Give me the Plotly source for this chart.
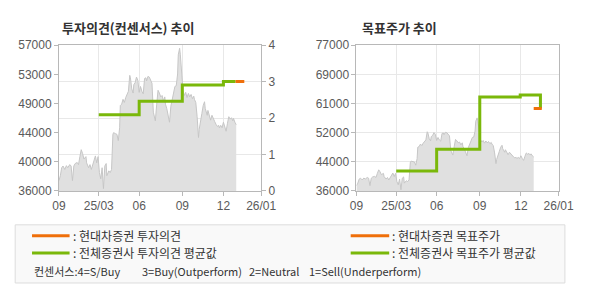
import plotly.graph_objects as go

# ---------------- data ----------------
x_tick_pos = [0, 59, 119, 183, 244, 300]
x_tick_labels = ["09", "25/03", "06", "09", "12", "26/01"]

stock_idx = [0, 2, 4, 6, 8.6, 11, 13, 16, 18, 20, 22, 24, 27, 29, 31, 33, 35, 37, 40, 41,
             44, 46, 48, 50, 52, 54, 56, 58, 60, 62, 64, 66, 68, 70, 71, 74, 76, 78, 80, 81,
             84, 86, 88, 90, 91, 93, 95, 97, 99, 101, 103, 105, 106, 108, 110, 111, 113, 115, 117, 119,
             121, 123, 125, 127, 129, 130, 132, 134, 136, 138, 140, 142, 143, 145, 147, 149, 151, 153, 155, 157,
             158, 160, 162, 164, 166, 168, 170, 172, 174, 176, 177, 179, 180, 181, 183, 184, 186, 188, 190, 192,
             194, 196, 198, 200, 201, 203, 205, 207, 208, 210, 212, 214, 216, 217, 220, 221, 223, 225, 227, 229,
             231, 233, 235, 237, 238, 240, 242, 244, 246, 248, 250, 252, 254, 256, 258, 259, 261, 263]
stock_price = [37500, 38200, 39350, 39600, 39100, 39650, 39350, 39800, 39600, 37500, 39600, 39950, 40100, 39800, 40950, 41950, 41400, 40600, 40950, 40050,
               39350, 39800, 39100, 39800, 40500, 41050, 40050, 40950, 38650, 37750, 39350, 36350, 39600, 39950, 38200, 38900, 38650, 39100, 44150, 44400,
               44250, 44150, 43250, 45100, 48300, 48500, 49200, 48750, 49450, 49900, 50350, 52650, 52300, 50700, 50100, 51300, 51600, 52400, 51950, 50200,
               51050, 50350, 50000, 52200, 52300, 51850, 52500, 52400, 51850, 51500, 47350, 46450, 46100, 48500, 50500, 50100, 49550, 49750, 48950, 49550,
               48500, 47850, 46900, 45900, 48200, 49100, 50100, 51050, 51150, 52850, 55600, 56550, 55700, 54250, 52850, 50500, 49750, 50200, 49450, 50050,
               49550, 49900, 49300, 49650, 49200, 48750, 46700, 43700, 44850, 45750, 47150, 48300, 48850, 47900, 46900, 47600, 46700, 46200, 46900, 46350,
               46000, 45600, 45300, 45450, 45100, 45450, 45100, 45900, 45150, 44600, 45750, 46700, 46350, 46550, 46100, 46450, 45900, 45550]

# consensus (investment opinion, 0-4 scale)
opinion_avg_idx = [59, 119, 183, 244, 262]
opinion_avg_val = [2.09, 2.46, 2.91, 3.0, 3.0]
opinion_hd_idx = [262, 275]
opinion_hd_val = [3.0, 3.0]

# target price
target_avg_idx = [59, 119, 183, 243, 273]
target_avg_val = [41600, 47700, 62400, 63000, 59200]
target_hd_idx = [263, 275]
target_hd_val = [59200, 59200]

left_price_ticks = [36000, 40200, 44400, 48600, 52800, 57000]
left_price_labels = ["36000", "40000", "44000", "49000", "53000", "57000"]
opinion_ticks = [0, 1, 2, 3, 4]
right_price_ticks = [36000, 44200, 52400, 60600, 68800, 77000]
right_price_labels = ["36000", "44000", "52000", "61000", "69000", "77000"]

# ---------------- styles ----------------
ORANGE = "#ef6f0a"
GREEN = "#7ab80a"
AREA_FILL = "#e0e0e0"
AREA_LINE = "#c6c6c6"
GRID = "#e8e8e8"
AXIS = "#b8b8b8"
TICKFONT = dict(family="Liberation Sans, Arial, sans-serif", size=12, color="#5a5a5a")
KFONT = "Noto Sans CJK KR"

fig = go.Figure()

# left chart
fig.add_trace(go.Scatter(x=stock_idx, y=stock_price, mode="lines", fill="tozeroy",
                         fillcolor=AREA_FILL, line=dict(color=AREA_LINE, width=1),
                         xaxis="x", yaxis="y", hoverinfo="skip"))
fig.add_trace(go.Scatter(x=opinion_avg_idx, y=opinion_avg_val, mode="lines",
                         line=dict(color=GREEN, width=3, shape="hv"), xaxis="x", yaxis="y2"))
fig.add_trace(go.Scatter(x=opinion_hd_idx, y=opinion_hd_val, mode="lines",
                         line=dict(color=ORANGE, width=3), xaxis="x", yaxis="y2"))

# right chart
fig.add_trace(go.Scatter(x=stock_idx, y=stock_price, mode="lines", fill="tozeroy",
                         fillcolor=AREA_FILL, line=dict(color=AREA_LINE, width=1),
                         xaxis="x2", yaxis="y3", hoverinfo="skip"))
fig.add_trace(go.Scatter(x=target_avg_idx, y=target_avg_val, mode="lines",
                         line=dict(color=GREEN, width=3, shape="hv"), xaxis="x2", yaxis="y3"))
fig.add_trace(go.Scatter(x=target_hd_idx, y=target_hd_val, mode="lines",
                         line=dict(color=ORANGE, width=3), xaxis="x2", yaxis="y3"))

W, H = 590, 300
dom_x1 = [54 / W, 264 / W]
dom_x2 = [363 / W, 573 / W]
dom_y = [1 - 193 / H, 1 - 40 / H]

xcommon = dict(range=[0, 300], tickvals=x_tick_pos, ticktext=x_tick_labels,
               showgrid=True, gridcolor=GRID, gridwidth=1, zeroline=False,
               showline=True, linecolor=AXIS, linewidth=1, mirror=True,
               ticks="outside", ticklen=4, tickcolor=AXIS, tickfont=TICKFONT, fixedrange=True)

fig.update_layout(
    width=W, height=H, margin=dict(l=0, r=0, t=0, b=0),
    paper_bgcolor="white", plot_bgcolor="white", showlegend=False,
    xaxis=dict(domain=dom_x1, anchor="y", **xcommon),
    xaxis2=dict(domain=dom_x2, anchor="y3", **xcommon),
    yaxis=dict(domain=dom_y, anchor="x", range=[36000, 57000], tickvals=left_price_ticks,
               ticktext=left_price_labels, showgrid=False, zeroline=False,
               showline=True, linecolor=AXIS, linewidth=1, ticks="outside", ticklen=4,
               tickcolor=AXIS, tickfont=TICKFONT),
    yaxis2=dict(domain=dom_y, anchor="x", overlaying="y", side="right", range=[0, 4],
                tickvals=opinion_ticks, showgrid=True, gridcolor=GRID, zeroline=False,
                showline=True, linecolor=AXIS, linewidth=1, ticks="outside", ticklen=4,
                tickcolor=AXIS, tickfont=TICKFONT),
    yaxis3=dict(domain=dom_y, anchor="x2", range=[36000, 77000], tickvals=right_price_ticks,
                ticktext=right_price_labels, showgrid=True, gridcolor=GRID, zeroline=False,
                showline=True, linecolor=AXIS, linewidth=1, mirror=True, ticks="outside", ticklen=4,
                tickcolor=AXIS, tickfont=TICKFONT),
)

# titles
fig.add_annotation(text="<b>투자의견(컨센서스) 추이</b>", xref="paper", yref="paper",
                   x=55 / W, y=1 - 21 / H, xanchor="left", yanchor="middle", showarrow=False,
                   font=dict(family=KFONT, size=13, color="#333333"))
fig.add_annotation(text="<b>목표주가 추이</b>", xref="paper", yref="paper",
                   x=367 / W, y=1 - 21 / H, xanchor="left", yanchor="middle", showarrow=False,
                   font=dict(family=KFONT, size=13, color="#333333"))

# legend box
fig.add_shape(type="rect", xref="paper", yref="paper", x0=8.5 / W, x1=579.5 / W,
              y0=1 - 289.5 / H, y1=1 - 228.5 / H, line=dict(color="#dcdcdc", width=1),
              fillcolor="#f9f9f9", layer="below")

legend_items = [
    (26, 65, 240, ORANGE, ": 현대차증권 투자의견"),
    (26, 65, 258, GREEN, ": 전체증권사 투자의견 평균값"),
    (357, 397, 240, ORANGE, ": 현대차증권 목표주가"),
    (357, 397, 258, GREEN, ": 전체증권사 목표주가 평균값"),
]
for x0, x1, yy, col, txt in legend_items:
    fig.add_shape(type="line", xref="paper", yref="paper", x0=x0 / W, x1=x1 / W,
                  y0=1 - yy / H, y1=1 - yy / H, line=dict(color=col, width=3))
    fig.add_annotation(text=txt, xref="paper", yref="paper", x=(x1 + 1) / W, y=1 - yy / H,
                       xanchor="left", yanchor="middle", showarrow=False,
                       font=dict(family=KFONT, size=12, color="#333333"))

consensus_parts = [(26, "컨센서스:4=S/Buy"), (138, "3=Buy(Outperform)"),
                   (249, "2=Neutral"), (312, "1=Sell(Underperform)")]
for xx, txt in consensus_parts:
    fig.add_annotation(text=txt, xref="paper", yref="paper", x=xx / W, y=1 - 277 / H,
                       xanchor="left", yanchor="middle", showarrow=False,
                       font=dict(family=KFONT, size=11, color="#333333"))

fig.write_html("out.html")
